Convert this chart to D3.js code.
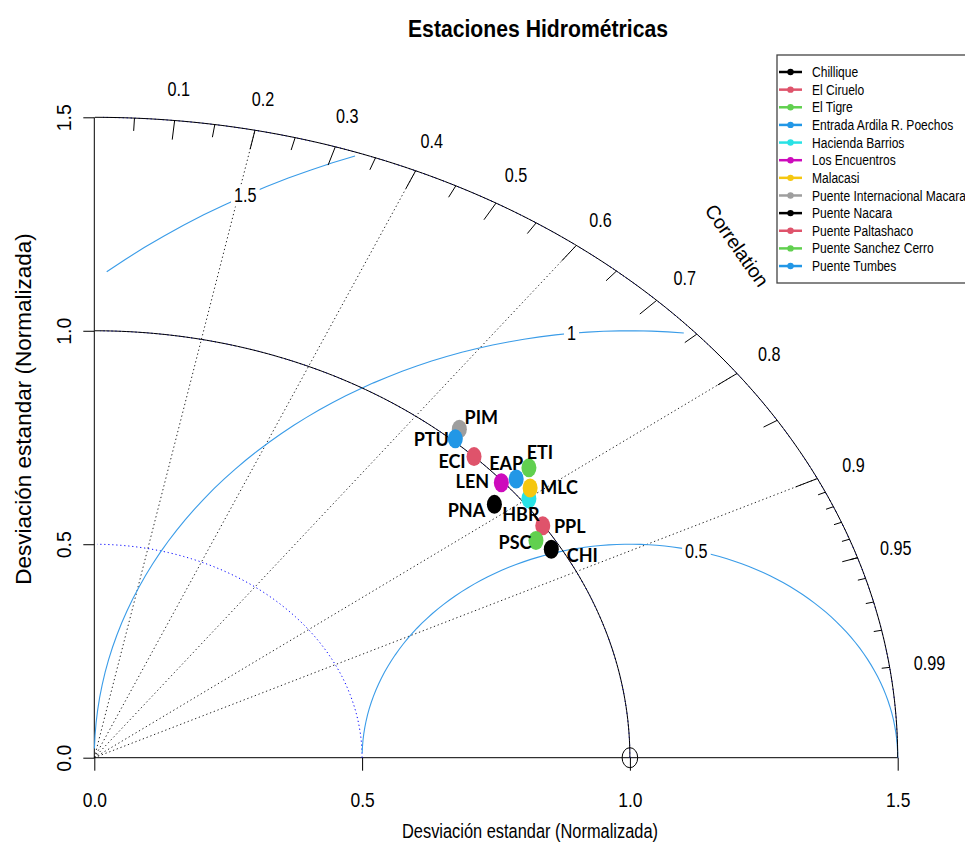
<!DOCTYPE html>
<html><head><meta charset="utf-8">
<script src="https://cdn.jsdelivr.net/npm/d3@7"></script>
<style>body{margin:0;background:#fff} svg{display:block}</style>
</head><body>
<svg id="chart" width="965" height="843"></svg>
<script>
// ---------------- data ----------------
const stations = ["Chillique","El Ciruelo","El Tigre","Entrada Ardila R. Poechos","Hacienda Barrios","Los Encuentros","Malacasi","Puente Internacional Macara","Puente Nacara","Puente Paltashaco","Puente Sanchez Cerro","Puente Tumbes"];
const codes = ["CHI","ECI","ETI","EAP","HBR","LEN","MLC","PIM","PNA","PPL","PSC","PTU"];
const sdNorm = [0.983,1.000,1.058,1.023,1.013,0.996,1.030,1.028,0.954,0.998,0.969,1.006];
const corr   = [0.868,0.709,0.767,0.770,0.801,0.763,0.790,0.663,0.783,0.839,0.851,0.670];
const colors = ["#000000","#DF536B","#61D04F","#2297E6","#28E2E5","#CD0BBC","#F5C710","#9E9E9E","#000000","#DF536B","#61D04F","#2297E6"];
const axisTicks = [0, 0.5, 1.0, 1.5];
const corrLabels = [0.1,0.2,0.3,0.4,0.5,0.6,0.7,0.8,0.9,0.95,0.99];
const corrLines = [0.2,0.4,0.6,0.8,0.9];
const gammaLevels = [0.5, 1, 1.5];
const sdArcs = [0.5, 1.0, 1.5];
const refSd = 1, maxSd = 1.5;

// ---------------- layout (pixels) ----------------
const labelNudge = {CHI:[31,6],ECI:[-22,5],ETI:[11,-15],EAP:[-10,-16],HBR:[-8,16],LEN:[-29,-1],
  MLC:[29,-1],PIM:[22,-12],PNA:[-28,6],PPL:[27,1],PSC:[-21,2],PTU:[-24,1]};

const svg = d3.select("#chart");
const x = d3.scaleLinear().domain([0, 1.5]).range([94.3, 897.7]);
const y = d3.scaleLinear().domain([0, 1.5]).range([757.7, 117.3]);
const FONT = "'Liberation Sans', Arial, sans-serif";
const line = d3.line().x(d => x(d[0])).y(d => y(d[1]));

function condense(sel, f) {
  sel.each(function () {
    const n = this.getComputedTextLength();
    this.setAttribute("textLength", n * f);
    this.setAttribute("lengthAdjust", "spacingAndGlyphs");
  });
}

// correlation radial dotted lines
svg.append("g").selectAll("path").data(corrLines).join("path")
  .attr("d", c => line([[0, 0], [maxSd * c, maxSd * Math.sqrt(1 - c * c)]]))
  .attr("fill", "none").attr("stroke", "#222").attr("stroke-width", 1).attr("stroke-dasharray", "1.3,2.7");

// axes
const xAxis = d3.axisBottom(x).tickValues(axisTicks).tickFormat(d3.format(".1f")).tickSize(13).tickSizeOuter(0);
const gx = svg.append("g").attr("transform", `translate(0,${y(0)})`).call(xAxis);
gx.select(".domain").remove();
gx.selectAll("line").attr("stroke", "#000");
gx.selectAll("text").attr("y", 49).attr("dy", null).attr("font-family", FONT).attr("font-size", 21).attr("fill", "#000")
  .call(condense, 0.83);

const yAxis = d3.axisLeft(y).tickValues(axisTicks).tickFormat(d3.format(".1f")).tickSize(11).tickSizeOuter(0);
const gy = svg.append("g").attr("transform", `translate(${x(0)},0)`).call(yAxis);
gy.select(".domain").remove();
gy.selectAll("line").attr("stroke", "#000");
gy.selectAll("text").attr("x", null).attr("dy", null).attr("text-anchor", "middle")
  .attr("transform", "translate(-23,0) rotate(-90)")
  .attr("font-family", FONT).attr("font-size", 19.5).attr("fill", "#000");

// axis segments
svg.append("path").attr("d", line([[0, maxSd], [0, 0], [maxSd, 0]])).attr("fill", "none").attr("stroke", "#000");

// sd arcs (blue dotted)
const tQuarter03 = d3.range(0, Math.PI / 2, 0.03);
svg.append("g").selectAll("path").data(sdArcs).join("path")
  .attr("d", r => line(tQuarter03.map(t => [Math.cos(t) * r, Math.sin(t) * r])))
  .attr("fill", "none").attr("stroke", "#0000ff").attr("stroke-width", 1).attr("stroke-dasharray", "1.2,2.8");

// gamma (centered RMS) curves
const tHalf = d3.range(0, Math.PI, 0.03);
const gammaCol = "#3a9ce8";
const gG = svg.append("g");
gammaLevels.forEach((g, gi) => {
  const xs = tHalf.map(t => Math.cos(t) * g + refSd);
  const ys = tHalf.map(t => Math.sin(t) * g);
  const neg = xs.findIndex(v => v < 0);
  const end = neg >= 0 ? neg - 1 : tHalf.length - 1;
  let lastOver = -1;
  xs.forEach((v, i) => { if (v * v + ys[i] * ys[i] > maxSd * maxSd) lastOver = i; });
  const start = lastOver >= 0 ? lastOver + 1 : 0;
  const pts = d3.range(start, end + 1).map(i => [xs[i], ys[i]]);
  gG.append("path").attr("d", line(pts)).attr("fill", "none").attr("stroke", gammaCol).attr("stroke-width", 1.1);
});
// gamma labels (boxed)
const labIdx = [44, 56, 69];
gammaLevels.forEach((g, gi) => {
  const t = labIdx[gi] * 0.03;
  const lx = x(Math.cos(t) * g + refSd), ly = y(Math.sin(t) * g);
  const txt = gG.append("text").attr("x", lx).attr("y", ly).attr("dy", "0.36em")
    .attr("text-anchor", "middle").attr("font-family", FONT).attr("font-size", 19.5).text(String(g));
  condense(txt, 0.83);
  const bb = txt.node().getBBox();
  gG.insert("rect", "text:last-child").attr("x", bb.x - 3).attr("y", bb.y).attr("width", bb.width + 6).attr("height", bb.height).attr("fill", "#fff");
});

// outer arc and reference arc
const tQuarter01 = d3.range(0, Math.PI / 2, 0.01);
[maxSd, refSd].forEach(r => {
  svg.append("path").attr("d", line(tQuarter01.map(t => [Math.cos(t) * r, Math.sin(t) * r])))
    .attr("fill", "none").attr("stroke", "#000").attr("stroke-width", 1);
});

// correlation ticks
const bigT = d3.range(1, 10).map(i => i / 10);
const medT = d3.range(0, 10).map(i => 0.05 + i / 10);
const smlT = d3.range(91, 100).map(i => i / 100);
const tickG = svg.append("g").attr("stroke", "#000").attr("stroke-width", 1);
[[bigT, 0.97], [medT, 0.98], [smlT, 0.99]].forEach(([vals, f]) => {
  vals.forEach(c => {
    const a = Math.acos(c);
    tickG.append("path").attr("d", line([[Math.cos(a) * maxSd, Math.sin(a) * maxSd], [Math.cos(a) * f * maxSd, Math.sin(a) * f * maxSd]]));
  });
});

// reference point
svg.append("ellipse").attr("cx", x(refSd)).attr("cy", y(0)).attr("rx", 7.8).attr("ry", 10)
  .attr("fill", "none").attr("stroke", "#000").attr("stroke-width", 1);

// correlation labels
svg.append("g").selectAll("text").data(corrLabels).join("text")
  .attr("x", c => x(Math.cos(Math.acos(c)) * 1.05 * maxSd))
  .attr("y", c => y(Math.sin(Math.acos(c)) * 1.05 * maxSd))
  .attr("dy", "0.36em").attr("text-anchor", "middle")
  .attr("font-family", FONT).attr("font-size", 19.5).attr("fill", "#000")
  .text(c => String(c)).call(condense, 0.83);

svg.append("text").attr("transform", `translate(${x(maxSd * 0.8)},${y(maxSd * 0.8)}) rotate(55)`)
  .attr("text-anchor", "middle").attr("dy", "0.36em")
  .attr("font-family", FONT).attr("font-size", 19.5).text("Correlation");

// data points
const pts = stations.map((s, i) => ({ name: s, code: codes[i], sd: sdNorm[i], r: corr[i], col: colors[i] }));
svg.append("g").selectAll("ellipse").data(pts).join("ellipse")
  .attr("cx", d => x(d.sd * d.r)).attr("cy", d => y(d.sd * Math.sqrt(1 - d.r * d.r)))
  .attr("rx", 7.5).attr("ry", 9.5).attr("fill", d => d.col);

svg.append("g").selectAll("text").data(pts).join("text")
  .attr("x", d => x(d.sd * d.r) + labelNudge[d.code][0])
  .attr("y", d => y(d.sd * Math.sqrt(1 - d.r * d.r)) + labelNudge[d.code][1])
  .attr("dy", "0.36em").attr("text-anchor", "middle")
  .attr("font-family", "Lato, 'Open Sans', sans-serif").attr("font-weight", "bold").attr("font-size", 18)
  .attr("fill", "#000").text(d => d.code);

// titles
svg.append("text").attr("x", 538).attr("y", 37).attr("text-anchor", "middle")
  .attr("font-family", FONT).attr("font-weight", "bold").attr("font-size", 23)
  .attr("textLength", 260).attr("lengthAdjust", "spacingAndGlyphs").text("Estaciones Hidrométricas");
svg.append("text").attr("x", 530).attr("y", 838).attr("text-anchor", "middle")
  .attr("font-family", FONT).attr("font-size", 20.5)
  .attr("textLength", 256).attr("lengthAdjust", "spacingAndGlyphs").text("Desviación estandar (Normalizada)");
svg.append("text").attr("transform", "translate(31,409) rotate(-90)").attr("text-anchor", "middle")
  .attr("font-family", FONT).attr("font-size", 22.5).text("Desviación estandar (Normalizada)");

// legend
const lg = svg.append("g").attr("transform", "translate(777,55)");
lg.append("rect").attr("x", 0).attr("y", 0).attr("width", 240).attr("height", 228)
  .attr("fill", "#fff").attr("stroke", "#444").attr("stroke-width", 1.3);
const rows = lg.selectAll("g.row").data(pts).join("g").attr("class", "row")
  .attr("transform", (d, i) => `translate(0,${17 + i * 17.64})`);
rows.append("line").attr("x1", 2).attr("x2", 25).attr("stroke", d => d.col).attr("stroke-width", 2.5);
rows.append("circle").attr("cx", 13.5).attr("r", 3.2).attr("fill", d => d.col);
rows.append("text").attr("x", 35).attr("dy", "0.36em").attr("font-family", FONT).attr("font-size", 14)
  .text(d => d.name).call(condense, 0.86);
</script>
</body></html>
